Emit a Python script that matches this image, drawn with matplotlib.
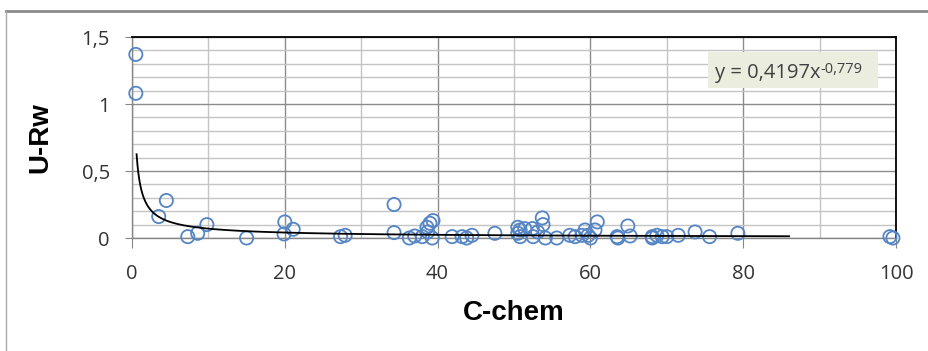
import numpy as np
import matplotlib.pyplot as plt
from matplotlib.lines import Line2D
from matplotlib.patches import Rectangle
from matplotlib.ticker import MultipleLocator

# data
c_chem = [0.5, 0.5, 3.5, 4.5, 7.3, 8.6, 9.8, 15.0, 19.9, 20.0, 21.1, 27.3, 27.9,
          34.3, 34.3, 36.3, 37.0, 38.0, 38.6, 39.0, 39.4, 38.7, 39.3, 41.9, 43.2,
          43.8, 44.5, 47.5, 50.5, 50.8, 50.5, 50.8, 51.4, 52.4, 52.5, 53.7, 53.8,
          53.1, 54.1, 55.6, 57.3, 58.0, 58.9, 59.3, 59.7, 60.0, 60.9, 60.6, 63.5,
          63.6, 64.9, 65.2, 68.1, 68.1, 68.7, 69.4, 70.0, 71.5, 73.7, 75.6, 79.3,
          99.2, 99.6]
u_rw = [1.37, 1.08, 0.16, 0.28, 0.01, 0.035, 0.10, 0.0, 0.03, 0.12, 0.065, 0.01, 0.02,
        0.25, 0.04, 0.0, 0.015, 0.01, 0.08, 0.11, 0.13, 0.045, 0.0, 0.01, 0.01,
        0.0, 0.02, 0.035, 0.08, 0.01, 0.035, 0.06, 0.07, 0.07, 0.01, 0.15, 0.10,
        0.045, 0.0, 0.0, 0.02, 0.01, 0.02, 0.06, 0.02, 0.0, 0.12, 0.06, 0.01,
        0.0, 0.09, 0.015, 0.01, 0.0, 0.02, 0.01, 0.01, 0.02, 0.045, 0.01, 0.035,
        0.01, 0.0]

# power trendline shown on the chart
coef_a = 0.4197
coef_b = -0.779
trend_from = 0.6
trend_to = 86

xticks = [0, 20, 40, 60, 80, 100]
yticks = [0, 0.5, 1, 1.5]
yticklabels = ['0', '0,5', '1', '1,5']

fig = plt.figure(figsize=(9.29, 3.51), dpi=100)
fig.patch.set_facecolor('white')

# outer chart border
fig.add_artist(Line2D([6/929, 1.0], [1 - 11/351, 1 - 11/351], color='#8a8a8a', lw=2))
fig.add_artist(Line2D([6/929, 6/929], [0, 1 - 11/351], color='#a8a8a8', lw=1))

ax = fig.add_axes([132/929, 113/351, 764/929, 201/351])
ax.set_xlim(0, 100)
ax.set_ylim(0, 1.5)

ax.xaxis.set_minor_locator(MultipleLocator(10))
ax.yaxis.set_minor_locator(MultipleLocator(0.1))
ax.grid(which='minor', color='#c4c4c4', lw=1.0)
ax.grid(which='major', color='#8c8c8c', lw=1.0)
ax.set_axisbelow(True)

for s in ['top', 'right']:
    ax.spines[s].set_color('black')
    ax.spines[s].set_linewidth(1.3)
for s in ['left', 'bottom']:
    ax.spines[s].set_color('#868686')
    ax.spines[s].set_linewidth(1.0)

ax.set_xticks(xticks)
ax.set_yticks(yticks)
ax.set_yticklabels(yticklabels)
ax.tick_params(which='minor', length=0)
ax.tick_params(axis='x', which='major', direction='out', length=7, color='#868686',
               pad=12, labelsize=14.5, labelcolor='#333333')
ax.tick_params(axis='y', which='major', direction='out', length=5, color='#868686',
               pad=11, labelsize=14.5, labelcolor='#333333')
for lab in ax.get_xticklabels() + ax.get_yticklabels():
    lab.set_fontfamily('Open Sans')

ax.scatter(c_chem, u_rw, s=90, facecolors='none', edgecolors='#5585c5',
           linewidths=1.3, clip_on=False, zorder=3)

tx = np.geomspace(trend_from, trend_to, 400)
ax.plot(tx, coef_a * tx ** coef_b, color='black', lw=1.3, zorder=4)

ax.set_xlabel('C-chem', fontfamily='Liberation Sans', fontweight='bold', fontsize=20)
ax.set_ylabel('U-Rw', fontfamily='Liberation Sans', fontweight='bold', fontsize=20)
ax.xaxis.set_label_coords(0.5, -0.31)
ax.yaxis.set_label_coords(-0.103, 0.5)

# trendline equation box
ax.add_patch(Rectangle((0.754, 0.746), 0.222, 0.179, transform=ax.transAxes,
                       facecolor='#ebeedf', edgecolor='none', zorder=5))
eq = ax.text(0.763, 0.797, 'y = 0,4197x', transform=ax.transAxes, fontsize=14.5,
             fontfamily='Open Sans', color='#404040', va='baseline', zorder=6)
ax.annotate('-0,779', xy=(1, 0), xycoords=eq, xytext=(0.3, 7),
            textcoords='offset points', fontsize=10.5, fontfamily='Open Sans',
            color='#404040', va='baseline', zorder=6)

plt.savefig('out.png', dpi=100)
